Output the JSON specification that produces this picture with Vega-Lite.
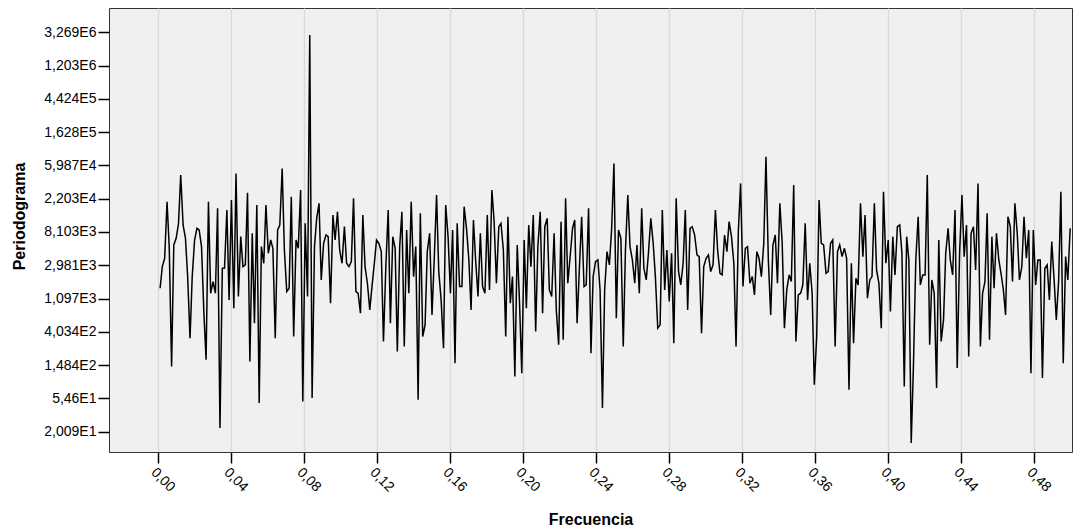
{
"$schema": "https://vega.github.io/schema/vega-lite/v6.json",
"width": 963, "height": 444,
"autosize": {"type": "none"},
"padding": {"left": 109, "top": 8, "right": 1, "bottom": 79},
"background": "white",
"config": {"view": {"fill": "#f0f0f0", "stroke": "#333333", "strokeWidth": 1}, "font": "Liberation Sans"},
"data": {"values": [
{"f":0.0013,"p":1495},{"f":0.0025,"p":2864},{"f":0.0038,"p":3678},{"f":0.0051,"p":20130},{"f":0.0063,"p":5219},
{"f":0.0076,"p":142.6},{"f":0.0088,"p":5486},{"f":0.0101,"p":6701},{"f":0.0114,"p":10510},{"f":0.0126,"p":44810},
{"f":0.0139,"p":10000},{"f":0.0152,"p":6701},{"f":0.0164,"p":2122},{"f":0.0177,"p":333.7},{"f":0.0189,"p":2122},
{"f":0.0202,"p":6374},{"f":0.0215,"p":9046},{"f":0.0227,"p":8604},{"f":0.0240,"p":5219},{"f":0.0253,"p":706.3},
{"f":0.0265,"p":174.2},{"f":0.0278,"p":20130},{"f":0.0290,"p":1287},{"f":0.0303,"p":1826},{"f":0.0316,"p":1287},
{"f":0.0328,"p":16480},{"f":0.0341,"p":22.4},{"f":0.0354,"p":2724},{"f":0.0366,"p":2724},{"f":0.0379,"p":15680},
{"f":0.0391,"p":1054},{"f":0.0404,"p":21160},{"f":0.0417,"p":820.6},{"f":0.0429,"p":47100},{"f":0.0442,"p":1164},
{"f":0.0455,"p":7045},{"f":0.0467,"p":2864},{"f":0.0480,"p":3011},{"f":0.0492,"p":26380},{"f":0.0505,"p":165.7},
{"f":0.0518,"p":7785},{"f":0.0530,"p":523.2},{"f":0.0543,"p":18210},{"f":0.0556,"p":47.5},{"f":0.0568,"p":5219},
{"f":0.0581,"p":3165},{"f":0.0593,"p":18210},{"f":0.0606,"p":4273},{"f":0.0619,"p":6374},{"f":0.0631,"p":4964},
{"f":0.0644,"p":333.7},{"f":0.0657,"p":8604},{"f":0.0669,"p":10000},{"f":0.0682,"p":54720},{"f":0.0694,"p":4722},
{"f":0.0707,"p":1353},{"f":0.0720,"p":1495},{"f":0.0732,"p":23390},{"f":0.0745,"p":350.8},{"f":0.0758,"p":6374},
{"f":0.0770,"p":4964},{"f":0.0783,"p":28570},{"f":0.0795,"p":49.9},{"f":0.0808,"p":10510},{"f":0.0821,"p":1164},
{"f":0.0833,"p":3018000},{"f":0.0846,"p":55.2},{"f":0.0859,"p":5219},{"f":0.0871,"p":12210},{"f":0.0884,"p":19150},
{"f":0.0896,"p":1920},{"f":0.0909,"p":5768},{"f":0.0922,"p":7406},{"f":0.0934,"p":7045},{"f":0.0947,"p":953.4},
{"f":0.0960,"p":13490},{"f":0.0972,"p":6374},{"f":0.0985,"p":14910},{"f":0.0997,"p":4722},{"f":0.1010,"p":3165},
{"f":0.1023,"p":9509},{"f":0.1035,"p":3165},{"f":0.1048,"p":2864},{"f":0.1061,"p":3328},{"f":0.1073,"p":22250},
{"f":0.1086,"p":1353},{"f":0.1098,"p":1287},{"f":0.1111,"p":706.3},{"f":0.1124,"p":13490},{"f":0.1136,"p":2864},
{"f":0.1149,"p":1737},{"f":0.1162,"p":780.5},{"f":0.1174,"p":1572},{"f":0.1187,"p":3165},{"f":0.1199,"p":6374},
{"f":0.1212,"p":5768},{"f":0.1225,"p":4492},{"f":0.1237,"p":301.9},{"f":0.1250,"p":2864},{"f":0.1263,"p":15680},
{"f":0.1275,"p":523.2},{"f":0.1288,"p":7045},{"f":0.1301,"p":4964},{"f":0.1313,"p":223.6},{"f":0.1326,"p":5219},
{"f":0.1338,"p":14910},{"f":0.1351,"p":259.9},{"f":0.1364,"p":8604},{"f":0.1376,"p":1287},{"f":0.1389,"p":20130},
{"f":0.1402,"p":2122},{"f":0.1414,"p":5219},{"f":0.1427,"p":52.5},{"f":0.1439,"p":14190},{"f":0.1452,"p":350.8},
{"f":0.1465,"p":497.7},{"f":0.1477,"p":4492},{"f":0.1490,"p":7785},{"f":0.1503,"p":671.8},{"f":0.1515,"p":3498},
{"f":0.1528,"p":24590},{"f":0.1540,"p":2465},{"f":0.1553,"p":1054},{"f":0.1566,"p":247.2},{"f":0.1578,"p":18210},
{"f":0.1591,"p":7045},{"f":0.1604,"p":1287},{"f":0.1616,"p":8604},{"f":0.1629,"p":157.6},{"f":0.1641,"p":10510},
{"f":0.1654,"p":1572},{"f":0.1667,"p":1572},{"f":0.1679,"p":17330},{"f":0.1692,"p":9046},{"f":0.1705,"p":3498},
{"f":0.1717,"p":780.5},{"f":0.1730,"p":11610},{"f":0.1742,"p":3498},{"f":0.1755,"p":1164},{"f":0.1768,"p":7785},
{"f":0.1780,"p":1572},{"f":0.1793,"p":1287},{"f":0.1806,"p":13490},{"f":0.1818,"p":1422},{"f":0.1831,"p":28570},
{"f":0.1843,"p":11610},{"f":0.1856,"p":1737},{"f":0.1869,"p":9509},{"f":0.1881,"p":10510},{"f":0.1894,"p":4722},
{"f":0.1907,"p":350.8},{"f":0.1919,"p":12840},{"f":0.1932,"p":953.4},{"f":0.1944,"p":2122},{"f":0.1957,"p":105.6},
{"f":0.1970,"p":5486},{"f":0.1982,"p":1054},{"f":0.1995,"p":116.7},{"f":0.2008,"p":6374},{"f":0.2020,"p":820.6},
{"f":0.2033,"p":10000},{"f":0.2045,"p":2864},{"f":0.2058,"p":13490},{"f":0.2071,"p":407.5},{"f":0.2083,"p":5219},
{"f":0.2096,"p":14910},{"f":0.2109,"p":706.3},{"f":0.2121,"p":9509},{"f":0.2134,"p":12210},{"f":0.2146,"p":1422},
{"f":0.2159,"p":1164},{"f":0.2172,"p":7785},{"f":0.2184,"p":780.5},{"f":0.2197,"p":273.2},{"f":0.2210,"p":11050},
{"f":0.2222,"p":317.4},{"f":0.2235,"p":22250},{"f":0.2247,"p":1737},{"f":0.2260,"p":3866},{"f":0.2273,"p":9046},
{"f":0.2285,"p":11610},{"f":0.2298,"p":523.2},{"f":0.2311,"p":2864},{"f":0.2323,"p":12840},{"f":0.2336,"p":1572},
{"f":0.2348,"p":1652},{"f":0.2361,"p":16480},{"f":0.2374,"p":212.7},{"f":0.2386,"p":2122},{"f":0.2399,"p":3328},
{"f":0.2412,"p":3498},{"f":0.2424,"p":1422},{"f":0.2437,"p":40.9},{"f":0.2449,"p":1422},{"f":0.2462,"p":4492},
{"f":0.2475,"p":3011},{"f":0.2487,"p":8604},{"f":0.2500,"p":63580},{"f":0.2513,"p":607.9},{"f":0.2525,"p":8604},
{"f":0.2538,"p":6701},{"f":0.2551,"p":259.9},{"f":0.2563,"p":4722},{"f":0.2576,"p":24590},{"f":0.2588,"p":5219},
{"f":0.2601,"p":3498},{"f":0.2614,"p":1737},{"f":0.2626,"p":5486},{"f":0.2639,"p":1287},{"f":0.2652,"p":16480},
{"f":0.2664,"p":2724},{"f":0.2677,"p":1920},{"f":0.2689,"p":4273},{"f":0.2702,"p":12210},{"f":0.2715,"p":5768},
{"f":0.2727,"p":2122},{"f":0.2740,"p":450.4},{"f":0.2753,"p":497.7},{"f":0.2765,"p":15680},{"f":0.2778,"p":1422},
{"f":0.2790,"p":4722},{"f":0.2803,"p":1002},{"f":0.2816,"p":4273},{"f":0.2828,"p":287.2},{"f":0.2841,"p":22250},
{"f":0.2854,"p":2465},{"f":0.2866,"p":1652},{"f":0.2879,"p":3165},{"f":0.2891,"p":15680},{"f":0.2904,"p":780.5},
{"f":0.2917,"p":9046},{"f":0.2929,"p":9509},{"f":0.2942,"p":7406},{"f":0.2955,"p":4064},{"f":0.2967,"p":3866},
{"f":0.2980,"p":387.6},{"f":0.2992,"p":2864},{"f":0.3005,"p":3678},{"f":0.3018,"p":4064},{"f":0.3030,"p":2465},
{"f":0.3043,"p":3011},{"f":0.3056,"p":15680},{"f":0.3068,"p":4722},{"f":0.3081,"p":2345},{"f":0.3093,"p":2231},
{"f":0.3106,"p":7406},{"f":0.3119,"p":4492},{"f":0.3131,"p":11050},{"f":0.3144,"p":7045},{"f":0.3157,"p":3165},
{"f":0.3169,"p":259.9},{"f":0.3182,"p":8604},{"f":0.3194,"p":34890},{"f":0.3207,"p":1572},{"f":0.3220,"p":4964},
{"f":0.3232,"p":5219},{"f":0.3245,"p":1737},{"f":0.3258,"p":2122},{"f":0.3270,"p":1224},{"f":0.3283,"p":4492},
{"f":0.3295,"p":3678},{"f":0.3308,"p":2122},{"f":0.3321,"p":5768},{"f":0.3333,"p":77650},{"f":0.3346,"p":3498},
{"f":0.3359,"p":671.8},{"f":0.3371,"p":5486},{"f":0.3384,"p":7406},{"f":0.3396,"p":1737},{"f":0.3409,"p":19150},
{"f":0.3422,"p":5768},{"f":0.3434,"p":450.4},{"f":0.3447,"p":1422},{"f":0.3460,"p":2231},{"f":0.3472,"p":1826},
{"f":0.3485,"p":33190},{"f":0.3497,"p":301.9},{"f":0.3510,"p":1224},{"f":0.3523,"p":1287},{"f":0.3535,"p":1652},
{"f":0.3548,"p":10510},{"f":0.3561,"p":1054},{"f":0.3573,"p":3165},{"f":0.3586,"p":1287},{"f":0.3598,"p":82.3},
{"f":0.3611,"p":350.8},{"f":0.3624,"p":21160},{"f":0.3636,"p":5768},{"f":0.3649,"p":5486},{"f":0.3662,"p":2345},
{"f":0.3674,"p":2465},{"f":0.3687,"p":5768},{"f":0.3699,"p":6374},{"f":0.3712,"p":259.9},{"f":0.3725,"p":4492},
{"f":0.3737,"p":5486},{"f":0.3750,"p":3866},{"f":0.3763,"p":4964},{"f":0.3775,"p":3678},{"f":0.3788,"p":70.8},
{"f":0.3801,"p":3165},{"f":0.3813,"p":287.2},{"f":0.3826,"p":2018},{"f":0.3838,"p":1652},{"f":0.3851,"p":19150},
{"f":0.3864,"p":3866},{"f":0.3876,"p":13490},{"f":0.3889,"p":1108},{"f":0.3902,"p":1920},{"f":0.3914,"p":2122},
{"f":0.3927,"p":19150},{"f":0.3939,"p":2592},{"f":0.3952,"p":1737},{"f":0.3965,"p":450.4},{"f":0.3977,"p":27170},
{"f":0.3990,"p":3165},{"f":0.4003,"p":6374},{"f":0.4015,"p":742.5},{"f":0.4028,"p":7045},{"f":0.4040,"p":2231},
{"f":0.4053,"p":9509},{"f":0.4066,"p":10000},{"f":0.4078,"p":4273},{"f":0.4091,"p":78.3},{"f":0.4104,"p":7045},
{"f":0.4116,"p":3498},{"f":0.4129,"p":14.3},{"f":0.4141,"p":142.6},{"f":0.4154,"p":3498},{"f":0.4167,"p":12840},
{"f":0.4179,"p":1652},{"f":0.4192,"p":2231},{"f":0.4205,"p":2231},{"f":0.4217,"p":44810},{"f":0.4230,"p":273.2},
{"f":0.4242,"p":1920},{"f":0.4255,"p":1287},{"f":0.4268,"p":74.4},{"f":0.4280,"p":6374},{"f":0.4293,"p":301.9},
{"f":0.4306,"p":578.3},{"f":0.4318,"p":4273},{"f":0.4331,"p":9046},{"f":0.4343,"p":3498},{"f":0.4356,"p":2231},
{"f":0.4369,"p":15680},{"f":0.4381,"p":135.7},{"f":0.4394,"p":4273},{"f":0.4407,"p":24590},{"f":0.4419,"p":3866},
{"f":0.4432,"p":10000},{"f":0.4444,"p":192.5},{"f":0.4457,"p":7785},{"f":0.4470,"p":9509},{"f":0.4482,"p":2592},
{"f":0.4495,"p":34890},{"f":0.4508,"p":259.9},{"f":0.4520,"p":1287},{"f":0.4533,"p":1826},{"f":0.4545,"p":14190},
{"f":0.4558,"p":317.4},{"f":0.4571,"p":7045},{"f":0.4583,"p":1495},{"f":0.4596,"p":7785},{"f":0.4609,"p":3498},
{"f":0.4621,"p":2345},{"f":0.4634,"p":1422},{"f":0.4646,"p":671.8},{"f":0.4659,"p":12840},{"f":0.4672,"p":9509},
{"f":0.4684,"p":1826},{"f":0.4697,"p":19150},{"f":0.4710,"p":7785},{"f":0.4722,"p":1920},{"f":0.4735,"p":2864},
{"f":0.4747,"p":12840},{"f":0.4760,"p":3678},{"f":0.4773,"p":8604},{"f":0.4785,"p":116.7},{"f":0.4798,"p":8604},
{"f":0.4811,"p":1652},{"f":0.4823,"p":3498},{"f":0.4836,"p":3498},{"f":0.4848,"p":100.5},{"f":0.4861,"p":2724},
{"f":0.4874,"p":3011},{"f":0.4886,"p":1054},{"f":0.4899,"p":6063},{"f":0.4912,"p":1920},{"f":0.4924,"p":578.3},
{"f":0.4937,"p":1920},{"f":0.4949,"p":27170},{"f":0.4962,"p":157.6},{"f":0.4975,"p":3866},{"f":0.4987,"p":1920},
{"f":0.5000,"p":9046}
]},
"mark": {"type": "line", "color": "black", "strokeWidth": 1.5, "clip": true},
"encoding": {
 "x": {"field": "f", "type": "quantitative",
  "scale": {"domain": [-0.0267, 0.501], "nice": false, "zero": false},
  "axis": {"title": "Frecuencia", "values": [0, 0.04, 0.08, 0.12, 0.16, 0.2, 0.24, 0.28, 0.32, 0.36, 0.4, 0.44, 0.48],
   "labelExpr": "replace(format(datum.value, '.2f'), '.', ',')",
   "labelAngle": 45, "labelAlign": "left", "labelBaseline": "top", "labelFontSize": 14, "labelColor": "black", "labelPadding": 2,
   "tickSize": 11, "tickColor": "black", "tickWidth": 1.5, "domain": false,
   "grid": true, "gridColor": "#d9d9d9", "gridWidth": 1.3,
   "titleFontSize": 16, "titleFontWeight": "bold", "titleColor": "black", "titleBaseline": "top", "titleY": 59}},
 "y": {"field": "p", "type": "quantitative",
  "scale": {"type": "log", "base": 2.718281828459045, "domain": [10.91, 6784000], "nice": false},
  "axis": {"title": "Periodograma", "values": [20.0855, 54.598, 148.41, 403.43, 1096.63, 2980.96, 8103.08, 22026.47, 59874.14, 162754.79, 442413.39, 1202604.28, 3269017.37],
   "labelExpr": "replace(replace(format(datum.value, '.3~e'), '.', ','), 'e+', 'E')",
   "labelFontSize": 14, "labelColor": "black", "labelPadding": 2,
   "tickSize": 11, "tickColor": "black", "tickWidth": 1.5, "domain": false, "grid": false,
   "titleFontSize": 16, "titleFontWeight": "bold", "titleColor": "black", "titleAngle": -90,
   "titleAlign": "center", "titleBaseline": "middle", "titleX": -90, "titleY": 208}}
}
}
